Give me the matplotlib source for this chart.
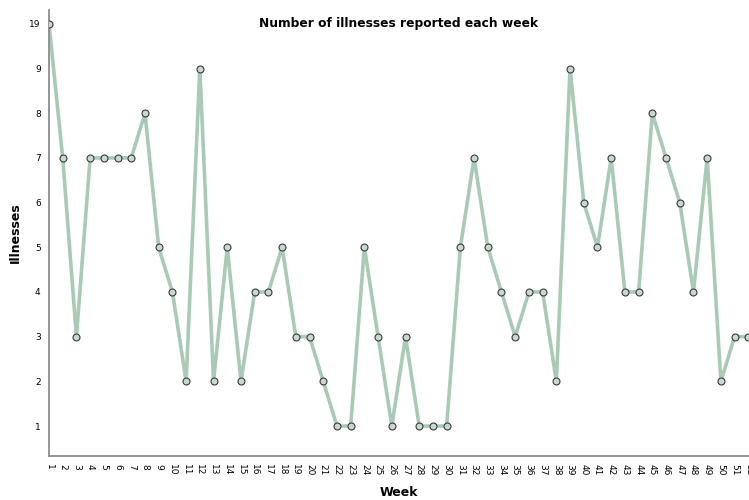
import matplotlib
matplotlib.use("Agg")
import matplotlib.pyplot as plt

# weekly counts
weeks = list(range(1, 53))
illnesses = [19, 7, 3, 7, 7, 7, 7, 8, 5, 4, 2, 9, 2, 5, 2, 4, 4, 5, 3, 3,
             2, 1, 1, 5, 3, 1, 3, 1, 1, 1, 5, 7, 5, 4, 3, 4, 4, 2, 9, 6,
             5, 7, 4, 4, 8, 7, 6, 4, 7, 2, 3, 3]

# y axis is categorical: every distinct value gets its own slot
y_levels = sorted(set(illnesses))
y_pos = [y_levels.index(v) for v in illnesses]

fig = plt.figure(figsize=(7.49, 5.0), dpi=100)
ax = fig.add_axes([49 / 749, 44 / 500, 700 / 749, 446 / 500])

ax.plot(weeks, y_pos, color="#a9cbb6", lw=2.6, zorder=2)
ax.plot(weeks, y_pos, ls="none", marker="o", ms=5, mfc="#c9d9cf",
        mec="#3a3a3a", mew=0.8, zorder=3)

ax.set_xlim(1, 52.05)
ax.set_ylim(-0.67, 9.31)
ax.set_xticks(weeks)
ax.set_xticklabels([str(w) for w in weeks], rotation=270, fontsize=6.5)
ax.set_yticks(range(len(y_levels)))
ax.set_yticklabels([str(v) for v in y_levels], fontsize=6.5)
ax.tick_params(length=0, pad=6)

for side in ("top", "right"):
    ax.spines[side].set_visible(False)
for side in ("left", "bottom"):
    ax.spines[side].set_color("#8c8c8c")
    ax.spines[side].set_linewidth(1.3)

ax.set_title("Number of illnesses reported each week", fontsize=8.8,
             fontweight="bold", y=0.985, pad=0, va="top")
ax.set_xlabel("Week", fontsize=9, fontweight="bold", labelpad=7)
ax.set_ylabel("Illnesses", fontsize=9, fontweight="bold", labelpad=5)

fig.savefig("out.png", dpi=100)
